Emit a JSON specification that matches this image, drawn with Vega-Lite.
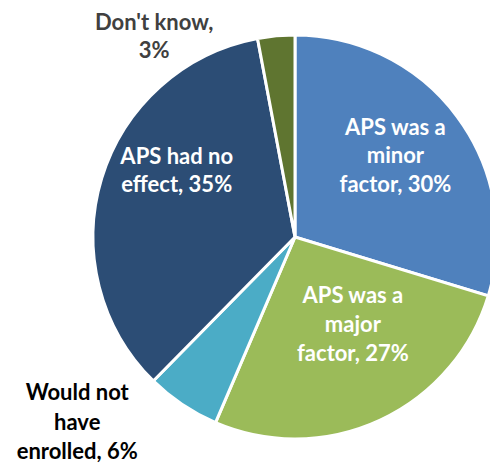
{
  "$schema": "https://vega.github.io/schema/vega-lite/v6.json",
  "width": 590,
  "height": 474,
  "autosize": "none",
  "padding": 0,
  "background": "white",
  "config": {"view": {"stroke": null}},
  "data": {
    "values": [
      {"idx": 1, "cat": "APS was a minor factor", "value": 30, "label": "APS was a\nminor\nfactor, 30%"},
      {"idx": 2, "cat": "APS was a major factor", "value": 27, "label": "APS was a\nmajor\nfactor, 27%"},
      {"idx": 3, "cat": "Would not have enrolled", "value": 6, "label": "Would not\nhave\nenrolled, 6%"},
      {"idx": 4, "cat": "APS had no effect", "value": 35, "label": "APS had no\neffect, 35%"},
      {"idx": 5, "cat": "Don't know", "value": 3, "label": "Don't know,\n3%"}
    ]
  },
  "encoding": {
    "theta": {"field": "value", "type": "quantitative", "stack": true},
    "order": {"field": "idx", "type": "quantitative"}
  },
  "layer": [
    {
      "mark": {"type": "arc", "outerRadius": 202, "stroke": "white", "strokeWidth": 3},
      "encoding": {
        "color": {
          "field": "cat", "type": "nominal", "legend": null,
          "scale": {
            "domain": ["APS was a minor factor", "APS was a major factor", "Would not have enrolled", "APS had no effect", "Don't know"],
            "range": ["#4F81BD", "#9BBB59", "#4BACC6", "#2C4D75", "#5F7530"]
          }
        }
      }
    },
    {
      "mark": {"type": "text", "radius": 120, "dx": 4, "dy": -38, "font": "Lato", "fontWeight": "bold", "fontSize": 22, "lineHeight": 28.5, "lineBreak": "\n", "align": "center", "baseline": "middle", "fill": "white"},
      "encoding": {"text": {"condition": {"test": "datum.idx === 1", "field": "label"}, "value": ""}}
    },
    {
      "mark": {"type": "text", "radius": 104, "dx": 14, "dy": -35, "font": "Lato", "fontWeight": "bold", "fontSize": 22, "lineHeight": 29, "lineBreak": "\n", "align": "center", "baseline": "middle", "fill": "white"},
      "encoding": {"text": {"condition": {"test": "datum.idx === 2", "field": "label"}, "value": ""}}
    },
    {
      "mark": {"type": "text", "radius": 276, "dx": -64, "dy": -73, "font": "Lato", "fontWeight": "bold", "fontSize": 22, "lineHeight": 29.5, "lineBreak": "\n", "align": "center", "baseline": "middle", "fill": "black"},
      "encoding": {"text": {"condition": {"test": "datum.idx === 3", "field": "label"}, "value": ""}}
    },
    {
      "mark": {"type": "text", "radius": 132, "dx": 8, "dy": -42, "font": "Lato", "fontWeight": "bold", "fontSize": 22, "lineHeight": 28.5, "lineBreak": "\n", "align": "center", "baseline": "middle", "fill": "white"},
      "encoding": {"text": {"condition": {"test": "datum.idx === 4", "field": "label"}, "value": ""}}
    },
    {
      "mark": {"type": "text", "radius": 212, "dx": -121, "dy": -3, "font": "Lato", "fontWeight": "bold", "fontSize": 22, "lineHeight": 28.5, "lineBreak": "\n", "align": "center", "baseline": "middle", "fill": "#404040"},
      "encoding": {"text": {"condition": {"test": "datum.idx === 5", "field": "label"}, "value": ""}}
    }
  ]
}
